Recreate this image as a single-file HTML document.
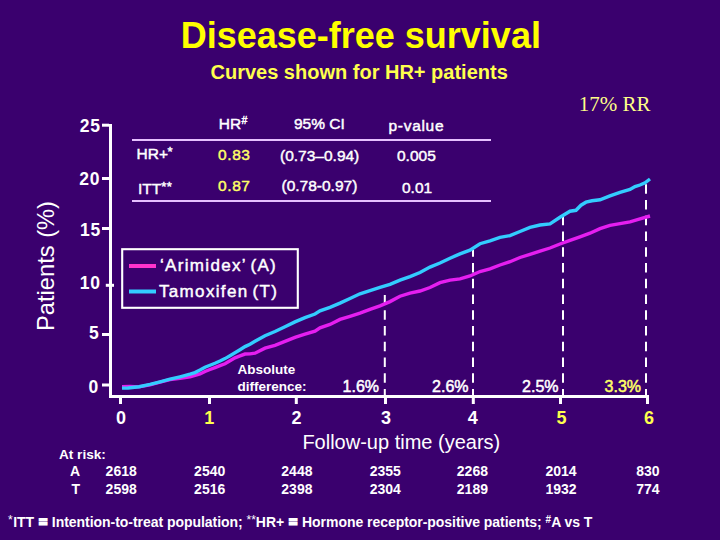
<!DOCTYPE html>
<html><head><meta charset="utf-8">
<style>
html,body{margin:0;padding:0;background:#3a006e;width:720px;height:540px;overflow:hidden}
svg{display:block}
text{font-family:"Liberation Sans",sans-serif}
.b{font-weight:bold}
.w{fill:#ffffff}
.y{fill:#ffff4d}
.sk{stroke:#ffffff;stroke-width:0.45}
.sy{stroke:#ffff66;stroke-width:0.45}
</style></head><body>
<svg width="720" height="540" viewBox="0 0 720 540">
<rect x="0" y="0" width="720" height="540" fill="#3a006e"/>
<!-- title -->
<text x="180.7" y="48" class="b" fill="#ffff00" font-size="36">Disease-free survival</text>
<text x="210.5" y="79" class="b y" font-size="20">Curves shown for HR+ patients</text>
<text x="578.8" y="111" font-size="21" fill="#ffff88" style="font-family:'Liberation Serif',serif">17% RR</text>

<!-- y label -->
<text transform="translate(54.3,331) rotate(-90)" class="w" font-size="23.7" word-spacing="1">Patients (%)</text>

<!-- y tick labels -->
<g class="b w" font-size="17.5" text-anchor="end" letter-spacing="0.8">
<text x="100.8" y="131.7">25</text>
<text x="100.3" y="185">20</text>
<text x="101" y="235.8">15</text>
<text x="100.8" y="288.6">10</text>
<text x="99.5" y="339.4">5</text>
<text x="99" y="392.6">0</text>
</g>

<!-- table -->
<g class="w sk" font-size="15.5">
<text x="218.7" y="128.8">HR<tspan font-size="10.5" dy="-4.5" dx="0.3">#</tspan></text>
<text x="294" y="128.8">95% CI</text>
<text x="388.5" y="131.3" letter-spacing="0.7">p-value</text>
<text x="136.5" y="158.9">HR+<tspan font-size="13" dy="-3" dx="-0.5">*</tspan></text>
<text x="138" y="193.6">ITT<tspan font-size="13" dy="-3" letter-spacing="0.5">**</tspan></text>
<text x="280" y="160.5">(0.73–0.94)</text>
<text x="281.5" y="190.5">(0.78-0.97)</text>
<text x="397" y="161.3">0.005</text>
<text x="402" y="192.5">0.01</text>
</g>
<g class="sy" fill="#ffff66" font-size="15.5" letter-spacing="0.6">
<text x="218" y="160">0.83</text>
<text x="218" y="191.1">0.87</text>
</g>
<rect x="132" y="139" width="359" height="2" fill="#e6c0ff"/>
<rect x="132" y="200" width="359" height="2" fill="#e6c0ff"/>

<!-- legend -->
<rect x="122.2" y="249.2" width="175.6" height="58.6" fill="none" stroke="#ffffff" stroke-width="2.1"/>
<rect x="129" y="264" width="27" height="4" fill="#ff33cc"/>
<rect x="129" y="289.5" width="27" height="4" fill="#33ccff"/>
<text x="160" y="271" class="w sk" font-size="17" letter-spacing="1.33" word-spacing="-2">‘Arimidex’ (A)</text>
<text x="159" y="297" class="w sk" font-size="17" letter-spacing="1.33" word-spacing="-2">Tamoxifen (T)</text>

<!-- dashed lines -->
<g stroke="#ffffff" stroke-width="2" stroke-dasharray="9.4 6.35" stroke-dashoffset="1.4">
<line x1="384.8" y1="397" x2="384.8" y2="295"/>
<line x1="473" y1="397" x2="473" y2="249.8"/>
<line x1="563" y1="397" x2="563" y2="216.8"/>
<line x1="646" y1="397" x2="646" y2="183.8"/>
</g>

<!-- curves -->
<polyline fill="none" stroke="#e51ef0" stroke-width="3.4" points="122,386.7 130,386.5 139,386.9 150,384.8 160,382.2 170,379.6 180,378.2 190,376.8 200,374 205,371.45 210,369.5 215,367.6 220,365.7 225,363.8 230,360.8 235,357.8 240,355.9 245,354.05 250,353.9 255,353.2 265,348.2 275,345.3 285,341.35 295,337.35 305,334.2 315,331.2 320,327.8 330,324.4 340,319.4 350,316.3 360,313.2 370,309.4 380,305.9 390,301.6 400,296.2 410,293.1 420,291 430,287.5 440,282.7 450,280.1 460,278.9 470,276 480,271.5 490,268.9 500,265 510,261.7 520,257.5 530,254.4 540,251.1 550,248 560,244 570,240.4 580,236.8 590,233.2 600,228.6 610,225.4 620,223.6 630,221.8 640,218.8 650,216"/>
<polyline fill="none" stroke="#33ccff" stroke-width="3.4" points="122,388.1 128,388 139,386.7 150,384.4 160,381.8 170,379.2 180,376.8 190,374.2 195,372.6 200,370 205,367.25 210,365.2 215,363.25 220,361 225,358.6 230,355.7 235,352.75 240,349.7 245,346.6 250,344.2 255,341.2 265,335.7 275,331.45 285,326.8 295,321.9 305,317.6 315,314 320,310.9 330,307.3 340,303.1 350,298.5 360,293.8 370,290.6 380,287.4 390,284.4 400,280.2 410,276.6 420,272.5 430,267.1 440,263 450,258.2 460,253.9 470,250.1 480,243.7 490,240.8 500,237.4 510,235.6 520,231.5 530,227.4 540,225 550,223.9 560,217.3 570,211.2 576,210.3 581,205.2 586,202.2 592,200.8 600,199.8 610,195.9 620,192.3 630,189.5 635,186.6 640,185 645,182.8 650,179"/>

<!-- axes -->
<g fill="#ffffff">
<rect x="109" y="124" width="3" height="274"/>
<rect x="109" y="395" width="540" height="3"/>
<rect x="102" y="123.7" width="7" height="3"/>
<rect x="102" y="177" width="7" height="3"/>
<rect x="102" y="227" width="7" height="3"/>
<rect x="105.8" y="283.8" width="8.2" height="3"/>
<rect x="102" y="333" width="7" height="3"/>
<rect x="102" y="383.5" width="7" height="3"/>
<rect x="119" y="398" width="3" height="6"/>
<rect x="208" y="398" width="3" height="6"/>
<rect x="294.8" y="398" width="3" height="6"/>
<rect x="384" y="398" width="3" height="6"/>
<rect x="471.8" y="398" width="3" height="6"/>
<rect x="559" y="398" width="3" height="6"/>
<rect x="646" y="398" width="3" height="6"/>
</g>

<!-- annotations -->
<g class="b w" font-size="13.5">
<text x="237.5" y="373.8">Absolute</text>
<text x="237.5" y="391.1">difference:</text>
</g>
<g font-size="16" text-anchor="end" stroke-width="0.5">
<text x="379" y="391.7" fill="#ffffff" stroke="#ffffff">1.6%</text>
<text x="468.5" y="391.7" fill="#ffffff" stroke="#ffffff">2.6%</text>
<text x="558.5" y="391.7" fill="#ffffff" stroke="#ffffff">2.5%</text>
<text x="641" y="391.7" fill="#ffff66" stroke="#ffff66">3.3%</text>
</g>

<!-- x tick labels -->
<g class="b" font-size="18" text-anchor="middle">
<text x="121.1" y="423.5" class="w">0</text>
<text x="209.2" y="423.5" class="y">1</text>
<text x="296.6" y="423.5" class="w">2</text>
<text x="386" y="423.5" class="w">3</text>
<text x="472.8" y="423.5" class="w">4</text>
<text x="561.4" y="423.5" class="y">5</text>
<text x="648.9" y="423.5" class="y">6</text>
</g>
<text x="302.4" y="448.6" class="w" font-size="20">Follow-up time (years)</text>

<!-- at risk -->
<g class="b w" font-size="14">
<text x="59" y="458.9" font-size="13.6">At risk:</text>
<text x="70" y="476">A</text>
<text x="71.5" y="493.8">T</text>
</g>
<g class="b w" font-size="14" text-anchor="middle">
<text x="121.2" y="476">2618</text><text x="121.2" y="494">2598</text>
<text x="209.7" y="476">2540</text><text x="209.7" y="494">2516</text>
<text x="296.9" y="476">2448</text><text x="296.9" y="494">2398</text>
<text x="385.3" y="476">2355</text><text x="385.3" y="494">2304</text>
<text x="472.4" y="476">2268</text><text x="472.4" y="494">2189</text>
<text x="561.1" y="476">2014</text><text x="561.1" y="494">1932</text>
<text x="647.9" y="476">830</text><text x="647.9" y="494">774</text>
</g>

<!-- footer -->
<text x="8" y="526.7" class="b w" font-size="14" letter-spacing="-0.04"><tspan font-size="12" dy="-3" font-weight="normal">*</tspan><tspan dy="3" dx="0.5">ITT </tspan><tspan dx="1" stroke="#ffffff" stroke-width="1.8">=</tspan><tspan dx="1"> Intention-to-treat population; </tspan><tspan font-size="12" dy="-3" font-weight="normal">**</tspan><tspan dy="3">HR+ </tspan><tspan dx="1" stroke="#ffffff" stroke-width="1.8">=</tspan><tspan dx="1"> Hormone receptor-positive patients; </tspan><tspan font-size="10" dy="-4">#</tspan><tspan dy="4">A vs T</tspan></text>
</svg>
</body></html>
